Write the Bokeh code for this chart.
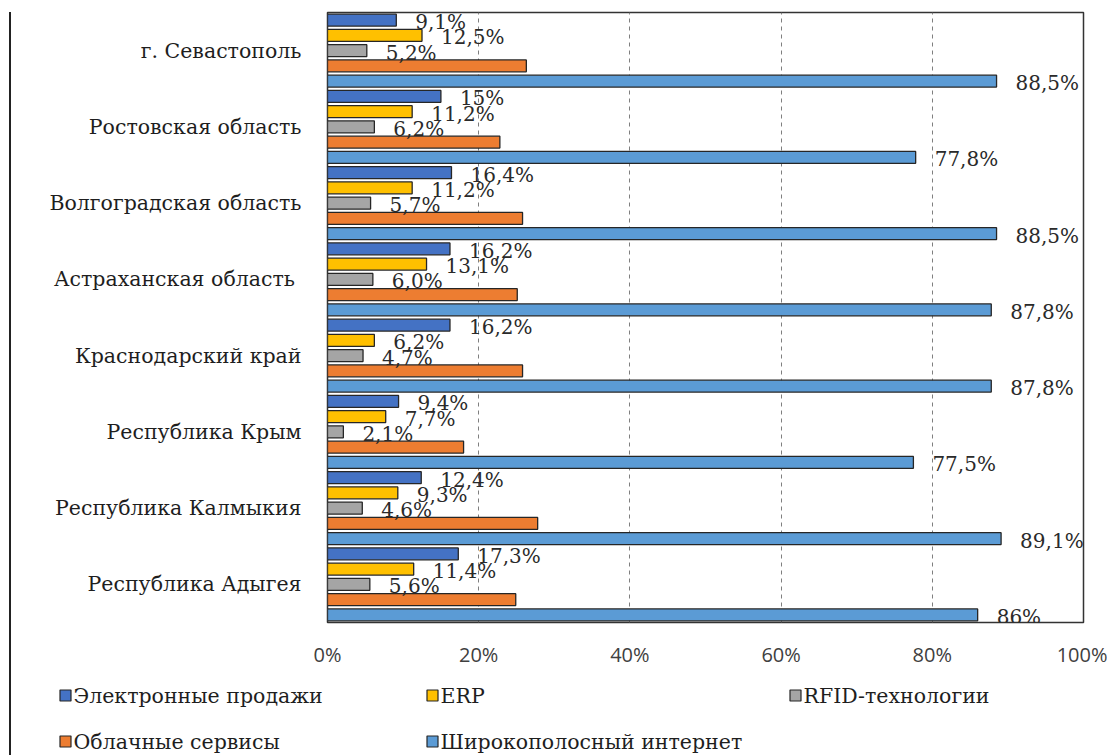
from bokeh.plotting import figure
from bokeh.models import (ColumnDataSource, FactorRange, Range1d, FixedTicker,
                          PrintfTickFormatter, LabelSet, Div)
from bokeh.transform import dodge
from bokeh.layouts import row, column
from bokeh.core.properties import value
from bokeh.embed import file_html
from bokeh.resources import INLINE

# ---------------- data ----------------
regions = ["Республика Адыгея", "Республика Калмыкия", "Республика Крым",
           "Краснодарский край", "Астраханская  область", "Волгоградская область",
           "Ростовская область", "г. Севастополь"]

series_names = ["Электронные продажи", "ERP", "RFID-технологии",
                "Облачные сервисы", "Широкополосный интернет"]
colors = ["#4472C4", "#FFC000", "#A5A5A5", "#ED7D31", "#5B9BD5"]

e_sales = [17.3, 12.4, 9.4, 16.2, 16.2, 16.4, 15.0, 9.1]
erp = [11.4, 9.3, 7.7, 6.2, 13.1, 11.2, 11.2, 12.5]
rfid = [5.6, 4.6, 2.1, 4.7, 6.0, 5.7, 6.2, 5.2]
cloud = [24.9, 27.8, 18.0, 25.8, 25.1, 25.8, 22.8, 26.3]
broadband = [86.0, 89.1, 77.5, 87.8, 87.8, 88.5, 77.8, 88.5]

e_sales_labels = ["17,3%", "12,4%", "9,4%", "16,2%", "16,2%", "16,4%", "15%", "9,1%"]
erp_labels = ["11,4%", "9,3%", "7,7%", "6,2%", "13,1%", "11,2%", "11,2%", "12,5%"]
rfid_labels = ["5,6%", "4,6%", "2,1%", "4,7%", "6,0%", "5,7%", "6,2%", "5,2%"]
cloud_labels = ["", "", "", "", "", "", "", ""]
broadband_labels = ["86%", "89,1%", "77,5%", "87,8%", "87,8%", "88,5%", "77,8%", "88,5%"]

x_ticks = [0, 20, 40, 60, 80, 100]

all_values = [e_sales, erp, rfid, cloud, broadband]
all_labels = [e_sales_labels, erp_labels, rfid_labels, cloud_labels, broadband_labels]
offsets = [0.4, 0.2, 0.0, -0.2, -0.4]

SERIF = "DejaVu Serif"

# ---------------- main chart ----------------
p = figure(width=1096, height=670, y_range=FactorRange(*regions),
           x_range=Range1d(0, 100), output_backend="svg", toolbar_location=None,
           min_border_left=316, min_border_right=24, min_border_top=12,
           min_border_bottom=45)

for vals, labs, off, col in zip(all_values, all_labels, offsets, colors):
    src = ColumnDataSource(dict(region=regions, v=vals, lab=labs))
    ydodge = dodge("region", off, range=p.y_range)
    p.hbar(y=ydodge, left=0, right="v", height=0.155, source=src,
           fill_color=col, line_color="#262626", line_width=1.3)
    ls = LabelSet(x="v", y=ydodge, text="lab", source=src, x_offset=19, y_offset=-2,
                  text_baseline="middle", text_align="left",
                  text_font=value(SERIF), text_font_size="20px", text_color="#2a2a2a")
    p.add_layout(ls)

p.outline_line_color = "#333333"
p.outline_line_width = 1.5
p.ygrid.grid_line_color = None
p.xgrid.ticker = FixedTicker(ticks=x_ticks)
p.xgrid.grid_line_color = "#7f7f7f"
p.xgrid.grid_line_dash = "4 4"
p.xgrid.grid_line_width = 1

p.xaxis.ticker = FixedTicker(ticks=x_ticks)
p.xaxis.formatter = PrintfTickFormatter(format="%d%%")
p.xaxis.axis_line_color = None
p.xaxis.major_tick_line_color = None
p.xaxis.minor_tick_line_color = None
p.xaxis.major_label_text_font = "Open Sans"
p.xaxis.major_label_text_font_size = "20px"
p.xaxis.major_label_text_color = "#404040"
p.xaxis.major_label_standoff = 12

p.yaxis.axis_line_color = None
p.yaxis.major_tick_line_color = None
p.yaxis.minor_tick_line_color = None
p.yaxis.major_label_text_font = SERIF
p.yaxis.major_label_text_font_size = "20.5px"
p.yaxis.major_label_text_color = "#1e1e1e"
p.yaxis.major_label_standoff = 20

# ---------------- legend ----------------
lg = figure(width=1096, height=85, x_range=Range1d(11, 1107), y_range=Range1d(85, 0),
            output_backend="svg", toolbar_location=None, min_border=0)
lg.axis.visible = False
lg.grid.grid_line_color = None
lg.outline_line_color = None

for fig in (p, lg):
    try:
        fig.frame_align = False
    except Exception:
        pass

leg_x = [65, 432, 795, 65, 432]
leg_y = [25, 25, 25, 71, 71]
lsrc = ColumnDataSource(dict(x=leg_x, tx=[x + 8 for x in leg_x], y=leg_y,
                             name=series_names, c=colors))
lg.scatter(x="x", y="y", marker="square", size=11, fill_color="c",
           line_color="#262626", line_width=1.2, source=lsrc)
lg.text(x="tx", y="y", text="name", source=lsrc,
        text_font=value(SERIF), text_font_size="20.5px", text_color="#1e1e1e",
        text_baseline="middle", text_align="left")

line_div = Div(width=11, height=743, margin=(12, 0, 0, 0),
               styles={"border-right": "2px solid #222222", "box-sizing": "border-box"})

layout = row(line_div, column(p, lg, spacing=0), spacing=0)

open("out.html", "w").write(file_html(layout, INLINE))
